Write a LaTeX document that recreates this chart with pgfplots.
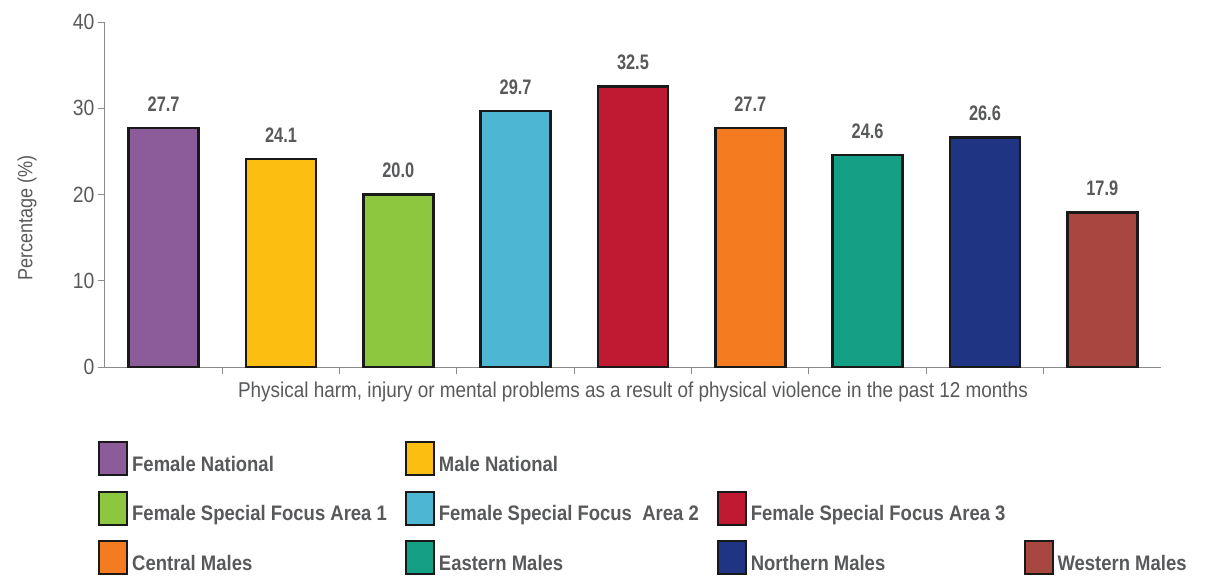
\documentclass[border=0pt]{standalone}
\usepackage{pgfplots}
\pgfplotsset{compat=1.18}
\usepackage{fontspec}
\setmainfont{Liberation Sans}[FakeStretch=0.88]
\newfontfamily\valfont{Liberation Sans}[FakeStretch=0.78]
\definecolor{txt}{HTML}{58595B}
\definecolor{axgrey}{HTML}{8A8A8A}
\definecolor{cFN}{HTML}{8C5B9A}
\definecolor{cMN}{HTML}{FDBE12}
\definecolor{cF1}{HTML}{8DC63F}
\definecolor{cF2}{HTML}{4CB6D3}
\definecolor{cF3}{HTML}{C01A32}
\definecolor{cCM}{HTML}{F47B20}
\definecolor{cEM}{HTML}{14A085}
\definecolor{cNM}{HTML}{1F3584}
\definecolor{cWM}{HTML}{A8473F}
\begin{document}
\begin{tikzpicture}
\begin{axis}[
  scale only axis,
  width=1056pt, height=345pt,
  xmin=0.5, xmax=9.5,
  ymin=0, ymax=40,
  ytick={0,10,20,30,40},
  xtick={1.5,2.5,3.5,4.5,5.5,6.5,7.5,8.5},
  xticklabels={},
  axis lines=left,
  axis line style={-, axgrey, line width=1pt},
  tick style={axgrey, line width=1pt},
  tick align=outside,
  major tick length=7pt,
  /pgf/number format/assume math mode=true,
  yticklabel style={font=\fontsize{22}{24}\selectfont, text=txt},
  ylabel={Percentage (\%)},
  every axis y label/.style={at={(axis description cs:0,0.432)}, xshift=-78pt, rotate=90, anchor=center, font=\fontsize{20.5}{22}\selectfont, text=txt},
  xlabel={Physical harm, injury or mental problems as a result of physical violence in the past 12 months},
  every axis x label/.style={at={(axis description cs:0.5,0)}, yshift=-25pt, anchor=center, font=\fontsize{21.5}{24}\selectfont, text=txt},
  bar width=70pt,
  mybar/.style={ybar, bar shift=0pt, fill=#1, draw=black!90, line width=2.5pt},
  nodes near coords={\pgfmathprintnumber[fixed,fixed zerofill,precision=1]{\pgfplotspointmeta}},
  nodes near coords style={font=\valfont\bfseries\fontsize{21}{22}\selectfont, text=txt, yshift=12pt},
  legend columns=4,
  legend cell align=left,
  legend image code/.code={\draw[#1, line width=2pt] (0pt,-11pt) rectangle (28pt,22pt);},
  legend style={draw=none, fill=none, font=\bfseries\fontsize{21}{24}\selectfont, text=txt,
    at={(0,0)}, anchor=north west, xshift=-10pt, yshift=-72pt,
    row sep=14.5pt,
    /tikz/every even column/.append style={column sep=16pt},
    /tikz/every odd column/.append style={column sep=2pt}},
]
\addplot[mybar=cFN] coordinates {(1,27.7)};
\addlegendentry{Female National}
\addplot[mybar=cMN] coordinates {(2,24.1)};
\addlegendentry{Male National}
\addlegendimage{empty legend}\addlegendentry{}
\addlegendimage{empty legend}\addlegendentry{}
\addplot[mybar=cF1] coordinates {(3,20.0)};
\addlegendentry{Female Special Focus Area 1}
\addplot[mybar=cF2] coordinates {(4,29.7)};
\addlegendentry{Female Special Focus~ Area 2}
\addplot[mybar=cF3] coordinates {(5,32.5)};
\addlegendentry{Female Special Focus Area 3}
\addlegendimage{empty legend}\addlegendentry{}
\addplot[mybar=cCM] coordinates {(6,27.7)};
\addlegendentry{Central Males}
\addplot[mybar=cEM] coordinates {(7,24.6)};
\addlegendentry{Eastern Males}
\addplot[mybar=cNM] coordinates {(8,26.6)};
\addlegendentry{Northern Males}
\addplot[mybar=cWM] coordinates {(9,17.9)};
\addlegendentry{Western Males}
\end{axis}
\path (-105pt,-214pt) rectangle (1100pt,367pt);
\end{tikzpicture}
\end{document}
